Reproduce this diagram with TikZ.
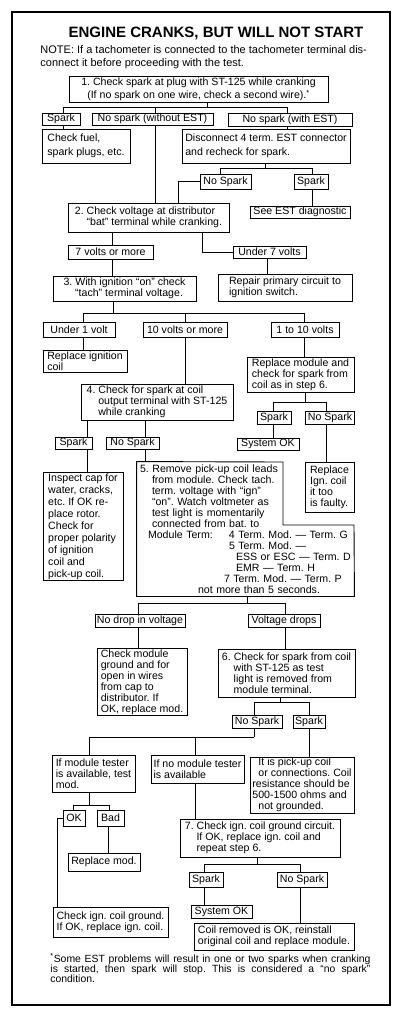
\documentclass[tikz,border=0pt]{standalone}
\usepackage{fontspec}
\setmainfont{Liberation Sans}
\frenchspacing
\newcommand\stepind{\hspace*{1.1em}}
\begin{document}
\begin{tikzpicture}[x=1pt,y=-1pt,line width=0.9pt,
  every node/.style={font=\fontsize{10.6}{11}\selectfont},
  box/.style 2 args={draw,minimum width=#1pt,minimum height=#2pt,inner xsep=2pt,inner ysep=1pt,align=left},
  wide/.style={font=\fontsize{10.6}{13.5}\selectfont}]
 \useasboundingbox (0,0) rectangle (410,1018);
 \draw[line width=1.8pt] (12,12) rectangle (390,1005);
 \node[font=\fontsize{15}{18}\selectfont\bfseries] (title) at (216,33) {ENGINE CRANKS, BUT WILL NOT START};
 \node[anchor=north west,inner sep=0pt,align=left,font=\fontsize{11}{13}\selectfont] (note) at (40,45)
  {NOTE: If a tachometer is connected to the tachometer terminal dis-\\connect it before proceeding with the test.};
 % step 1
 \node[box={259}{25},wide] (s1) at (198.5,89.5) {1. Check spark at plug with ST-125 while cranking\\\hspace*{6pt}(If no spark on one wire, check a second wire).\textsuperscript{*}};
 \node[box={38}{12}] (sp1) at (61,119) {Spark};
 \node[box={121}{12}] (nw) at (152.5,119) {No spark (without EST)};
 \node[box={124}{13}] (we) at (290,119.5) {No spark (with EST)};
 \node[box={88}{34},wide] (fuel) at (86,146) {Check fuel,\\spark plugs, etc.};
 \node[box={168}{34},wide] (disc) at (266,146) {Disconnect 4 term. EST connector\\and recheck for spark.};
 \node[box={51}{15}] (ns2) at (225.5,181.5) {No Spark};
 \node[box={34}{15}] (spk2) at (311,181.5) {Spark};
 \node[box={100}{12}] (est) at (300,212) {See EST diagnostic};
 % step 2
 \node[box={161}{29}] (s2) at (148.5,217.5) {2. Check voltage at distributor\\\stepind “bat” terminal while cranking.};
 \node[box={85}{14}] (v7) at (110.5,252) {7 volts or more};
 \node[box={73}{12}] (u7) at (269.5,252) {Under 7 volts};
 \node[box={134}{27}] (rep) at (285,287.5) {Repair primary circuit to\\ignition switch.};
 % step 3
 \node[box={143}{25}] (s3) at (124.5,288.5) {3. With ignition “on” check\\\stepind “tach” terminal voltage.};
 \node[box={72}{15}] (u1) at (79,329.5) {Under 1 volt};
 \node[box={84}{15}] (v10) at (185,329.5) {10 volts or more};
 \node[box={68}{15}] (v110) at (305,329.5) {1 to 10 volts};
 \node[box={84}{22}] (ric) at (85,361) {Replace ignition\\coil};
 \node[box={107}{35}] (rm) at (300.5,374.5) {Replace module and\\check for spark from\\coil as in step 6.};
 \node[box={34}{13}] (spk3) at (274,417.5) {Spark};
 \node[box={48}{13}] (ns3) at (330,417.5) {No Spark};
 \node[box={62}{12}] (sok1) at (268,444) {System OK};
 \node[box={49}{50}] (rig) at (329.5,487) {Replace\\Ign. coil\\it too\\is faulty.};
 % step 4
 \node[box={152}{36}] (s4) at (157,402) {4. Check for spark at coil\\\stepind output terminal with ST-125\\\stepind while cranking};
 \node[box={37}{12}] (spk4) at (73.5,443) {Spark};
 \node[box={53}{12}] (ns4) at (132.5,443) {No Spark};
 \node[box={80}{107},font=\fontsize{10.6}{12}\selectfont] (insp) at (83,526.5) {Inspect cap for\\water, cracks,\\etc. If OK re-\\place rotor.\\Check for\\proper polarity\\of ignition\\coil and\\pick-up coil.};
 % step 5
 \node[minimum width=217pt,minimum height=134pt,inner xsep=3pt,inner ysep=0pt,text width=211pt,align=left] (b5) at (245.5,529)
  {5. Remove pick-up coil leads\\
   \hspace*{12pt}from module. Check tach.\\
   \hspace*{12pt}term. voltage with “ign”\\
   \hspace*{12pt}“on”. Watch voltmeter as\\
   \hspace*{12pt}test light is momentarily\\
   \hspace*{12pt}connected from bat. to\\
   \hspace*{8pt}\makebox[81pt][l]{Module Term:}4 Term. Mod. --- Term. G\\
   \hspace*{89pt}5 Term. Mod. ---\\
   \hspace*{96pt}ESS or ESC --- Term. D\\
   \hspace*{96pt}EMR --- Term. H\\
   \hspace*{84pt}7 Term. Mod. --- Term. P\\
   \hspace*{58pt}not more than 5 seconds.};
 \draw (b5.north west) -- (283,462) -- (283,525) -- (354,525) -- (b5.south east) -- (b5.south west) -- cycle;
 \node[box={90}{13},inner xsep=1pt] (nd) at (140,620.5) {No drop in voltage};
 \node[box={72}{13}] (vd) at (284,620.5) {Voltage drops};
 \node[box={90}{66}] (cm) at (142,682) {Check module\\ground and for\\open in wires\\from cap to\\distributor. If\\OK, replace mod.};
 % step 6
 \node[box={137}{48}] (s6) at (286.5,673) {6. Check for spark from coil\\\stepind with ST-125 as test\\\stepind light is removed from\\\stepind module terminal.};
 \node[box={50}{13}] (ns6) at (257,721.5) {No Spark};
 \node[box={32}{13}] (spk6) at (309,721.5) {Spark};
 \node[box={83}{37}] (mt) at (93.5,773.5) {If module tester\\is available, test\\mod.};
 \node[box={93}{28}] (nmt) at (197.5,769) {If no module tester\\is available};
 \node[box={104}{56}] (pu) at (302,785) {\hspace*{6pt}It is pick-up coil\\\hspace*{6pt}or connections. Coil\\resistance should be\\500-1500 ohms and\\\hspace*{6pt}not grounded.};
 \node[box={22}{16}] (ok) at (74,818) {OK};
 \node[box={27}{16}] (bad) at (110.5,818) {Bad};
 \node[box={72}{18}] (rmod) at (104,862) {Replace mod.};
 \node[box={115}{30}] (cig) at (110.5,922) {Check ign. coil ground.\\If OK, replace ign. coil.};
 % step 7
 \node[box={160}{38}] (s7) at (260,838) {7. Check ign. coil ground circuit.\\\stepind If OK, replace ign. coil and\\\stepind repeat step 6.};
 \node[box={34}{15}] (spk7) at (206,879.5) {Spark};
 \node[box={50}{15}] (ns7) at (302,879.5) {No Spark};
 \node[box={61}{13}] (sok2) at (221.5,911.5) {System OK};
 \node[box={160}{27}] (crm) at (274,936.5) {Coil removed is OK, reinstall\\original coil and replace module.};
 \node[anchor=north west,inner sep=0pt,text width=320pt,align=justify,font=\fontsize{10.4}{10}\selectfont] (foot) at (50,953)
  {\textsuperscript{*}Some EST problems will result in one or two sparks when cranking\linebreak is started, then spark will stop. This is considered a “no spark”\linebreak condition.};
 % connectors
 \draw ([xshift=8.5pt]s1.south) -- ++(0,5) coordinate (j1);
 \draw (j1) -| ([xshift=2pt]sp1.north);
 \draw (j1) -| ([xshift=2.5pt]nw.north);
 \draw (j1) -| ([xshift=-3pt]we.north);
 \draw ([xshift=2pt]sp1.south) -- ([xshift=2pt]sp1.south |- fuel.north);
 \draw ([xshift=-3pt]we.south) -- ([xshift=-3pt]we.south |- disc.north);
 \draw ([xshift=2.5pt]nw.south) -- ([xshift=2.5pt]nw.south |- s2.north);
 \draw ([xshift=-1pt]disc.south) -- ++(0,5) coordinate (j2);
 \draw (j2) -| ([xshift=-5.5pt]ns2.north);
 \draw (j2) -| ([xshift=1pt]spk2.north);
 \draw ([xshift=1pt]spk2.south) -- ([xshift=1pt]spk2.south |- est.north);
 \draw (ns2.west) -| ([xshift=29.5pt]s2.north);
 \draw ([xshift=-36.5pt]s2.south) -- ([xshift=-36.5pt]s2.south |- v7.north);
 \draw ([xshift=53.5pt]s2.south) |- (u7.west);
 \draw ([xshift=-2.5pt]u7.south) -- ([xshift=-2.5pt]u7.south |- rep.north);
 \draw ([xshift=1.5pt]v7.south) -- ([xshift=1.5pt]v7.south |- s3.north);
 \draw ([xshift=-11.5pt]s3.south) -- ++(0,12) coordinate (j3);
 \draw (j3) -| ([xshift=4pt]u1.north);
 \draw (j3) -| (v10.north);
 \draw (j3) -| ([xshift=-1pt]v110.north);
 \draw ([xshift=4pt]u1.south) -- ([xshift=4pt]u1.south |- ric.north);
 \draw (v10.south) -- (v10.south |- s4.north);
 \draw ([xshift=-1pt]v110.south) -- ([xshift=-1pt]v110.south |- rm.north);
 \draw ([xshift=4.5pt]rm.south) -- ++(0,10) coordinate (j4);
 \draw (j4) -| ([xshift=-1pt]spk3.north);
 \draw (j4) -| ([xshift=-4pt]ns3.north);
 \draw ([xshift=-1pt]spk3.south) -- ([xshift=-1pt]spk3.south |- sok1.north);
 \draw ([xshift=-4pt]ns3.south) -- ([xshift=-4pt]ns3.south |- rig.north);
 \draw ([xshift=-70pt]s4.south) -- ([xshift=-70pt]s4.south |- spk4.north);
 \draw ([xshift=-12pt]s4.south) -- ([xshift=-12pt]s4.south |- ns4.north);
 \draw ([xshift=13.5pt]spk4.south) -- ([xshift=13.5pt]spk4.south |- insp.north);
 \draw ([xshift=12.5pt]ns4.south) -- ([xshift=12.5pt]ns4.south |- b5.north);
 \draw ([xshift=1.5pt]b5.south) -- ++(0,7) coordinate (j5);
 \draw (j5) -| ([xshift=-2pt]nd.north);
 \draw (j5) -| ([xshift=1pt]vd.north);
 \draw ([xshift=-2pt]nd.south) -- ([xshift=-2pt]nd.south |- cm.north);
 \draw ([xshift=1pt]vd.south) -- ([xshift=1pt]vd.south |- s6.north);
 \draw ([xshift=-6.5pt]s6.south) -- ++(0,5) coordinate (j6);
 \draw (j6) -| ([xshift=-3pt]ns6.north);
 \draw (j6) -| (spk6.north);
 \draw ([xshift=-3pt]ns6.south) -- ++(0,9) coordinate (j7);
 \draw (j7) -| ([xshift=-4.5pt]mt.north);
 \draw (j7) -| ([xshift=-2.5pt]nmt.north);
 \draw (spk6.south) -- (spk6.south |- pu.north);
 \draw ([xshift=-2.5pt]nmt.south) -- ([xshift=-2.5pt]nmt.south |- s7.north);
 \draw ([xshift=-4.5pt]mt.south) -- ++(0,13) coordinate (j8);
 \draw (j8) -| ([xshift=-1pt]ok.north);
 \draw (j8) -| ([xshift=-1.5pt]bad.north);
 \draw ([xshift=-2.5pt]bad.south) -- ([xshift=-2.5pt]bad.south |- rmod.north);
 \draw (ok.west) -| ([xshift=-53.5pt]cig.north);
 \draw ([xshift=-3pt]s7.south) -- ++(0,7) coordinate (j9);
 \draw (j9) -| ([xshift=-2pt]spk7.north);
 \draw (j9) -| ([xshift=-2pt]ns7.north);
 \draw ([xshift=-2pt]spk7.south) -- ([xshift=-2pt]spk7.south |- sok2.north);
 \draw ([xshift=-2pt]ns7.south) -- ([xshift=-2pt]ns7.south |- crm.north);
\end{tikzpicture}
\end{document}
